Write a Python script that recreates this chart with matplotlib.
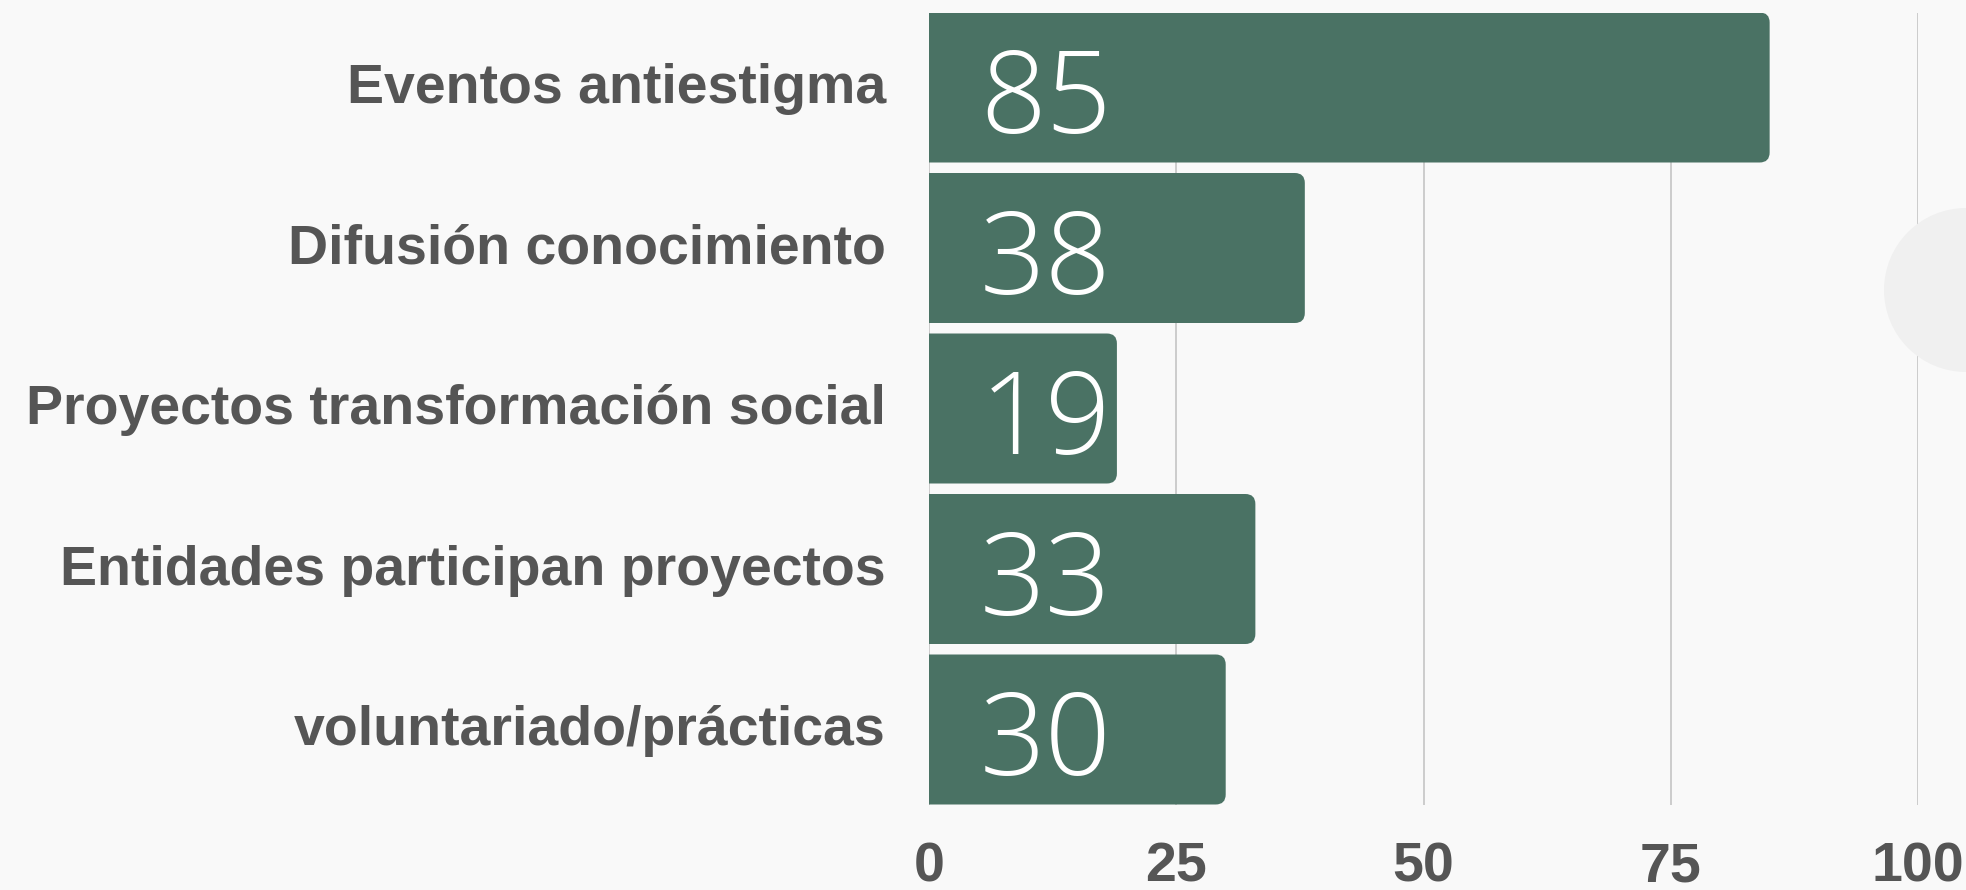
'''
Horizontal bar chart: actividades antiestigma.
'''
import matplotlib
matplotlib.use("Agg")
import matplotlib.pyplot as plt
from matplotlib.patches import FancyBboxPatch, Circle
from matplotlib.transforms import IdentityTransform, ScaledTranslation

# Data
categories = [
    "Eventos antiestigma",
    "Difusión conocimiento",
    "Proyectos transformación social",
    "Entidades participan proyectos",
    "voluntariado/prácticas",
]
values = [85, 38, 19, 33, 30]
x_ticks = [0, 25, 50, 75, 100]

# Style
BG = "#f9f9f9"
BAR_COLOR = "#4a7264"
TEXT_COLOR = "#555555"
GRID_COLOR = "#cccccc"

W, H, DPI = 1966, 890, 100
fig = plt.figure(figsize=(W / DPI, H / DPI), dpi=DPI, facecolor=BG)

# decorative circle on the right edge (pixel coords)
fig.patches.append(Circle((1966, H - 290), 82, transform=IdentityTransform(),
                          facecolor="#f0f0f0", edgecolor="none", zorder=0))

n = len(categories)
pitch, bar_px = 160.5, 150
bar_h = bar_px / pitch
left, right = 929, 1918
top = 12.5
bottom = top + (n - 1) * pitch + bar_px
ax = fig.add_axes([left / W, 1 - bottom / H, (right - left) / W, (bottom - top) / H])
ax.set_facecolor("none")
ax.set_xlim(0, 100)
ax.set_ylim(n - 1 + bar_h / 2, -bar_h / 2)

# grid lines
for t in x_ticks:
    ax.axvline(t, color=GRID_COLOR, lw=1.4, zorder=1)

# rounded bars (right corners rounded, left side clipped at x=0)
px_x = 100 / (right - left)
px_y = (n - 1 + bar_h) / (bottom - top)
radius = 10 * px_x
aspect = px_y / px_x
for i, v in enumerate(values):
    box = FancyBboxPatch((-5, i - bar_h / 2), v + 5, bar_h,
                         boxstyle=f"round,pad=0,rounding_size={radius}",
                         mutation_aspect=aspect,
                         facecolor=BAR_COLOR, edgecolor="none", zorder=2)
    ax.add_patch(box)
    ax.text(11.8, i + 0.1, str(v), ha="center", va="center", color="white",
            fontsize=83, family="Open Sans", fontweight="light", zorder=3)

ax.set_yticks(range(n))
ax.set_yticklabels(categories, fontsize=40, fontweight="bold",
                   family="Liberation Sans", color=TEXT_COLOR)
ax.set_xticks(x_ticks)
ax.set_xticklabels([str(t) for t in x_ticks], fontsize=40, fontweight="bold",
                   family="Liberation Sans", color=TEXT_COLOR)
ax.tick_params(axis="y", length=0, pad=31)
ax.tick_params(axis="x", length=0, pad=27)
# nudge category labels up a few pixels
shift = ScaledTranslation(0, 3 / 72, fig.dpi_scale_trans)
for lab in ax.get_yticklabels():
    lab.set_transform(lab.get_transform() + shift)
for s in ax.spines.values():
    s.set_visible(False)

fig.savefig("out.png", dpi=DPI, facecolor=BG)
